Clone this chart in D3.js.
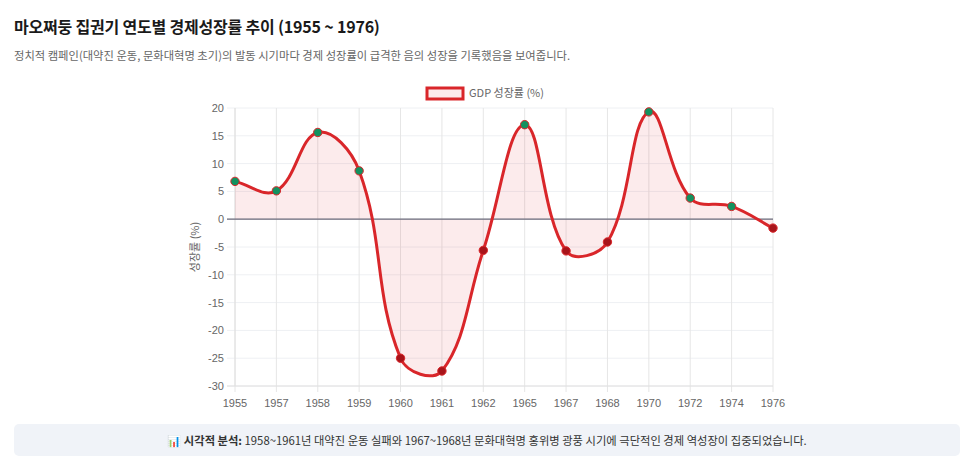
<!DOCTYPE html>
<html><head><meta charset="utf-8">
<script src="https://cdn.jsdelivr.net/npm/d3@7/dist/d3.min.js"></script>
<style>
body{margin:0;background:#fff;font-family:"Noto Sans CJK KR","Noto Sans",sans-serif;}
#title{position:absolute;left:14px;top:14px;font-size:16px;font-weight:700;color:#1a1a1a;letter-spacing:-0.2px}
#sub{position:absolute;left:14px;top:47px;font-size:11.3px;color:#666}
#note{position:absolute;left:14px;top:424px;width:946px;height:32px;background:#f0f3f8;border-radius:5px;font-size:11.3px;color:#333;text-align:center;line-height:32px}
svg{position:absolute;left:0;top:0}
</style></head><body>
<div id="title">마오쩌둥 집권기 연도별 경제성장률 추이 (1955 ~ 1976)</div>
<div id="sub">정치적 캠페인(대약진 운동, 문화대혁명 초기)의 발동 시기마다 경제 성장률이 급격한 음의 성장을 기록했음을 보여줍니다.</div>
<svg id="chart" width="975" height="474"></svg>
<div id="note">📊 <b>시각적 분석:</b> 1958~1961년 대약진 운동 실패와 1967~1968년 문화대혁명 홍위병 광풍 시기에 극단적인 경제 역성장이 집중되었습니다.</div>
<script>
const years = ["1955","1957","1958","1959","1960","1961","1962","1965","1967","1968","1970","1972","1974","1976"];
const growth = [6.8, 5.1, 15.6, 8.7, -25.0, -27.3, -5.6, 17.0, -5.7, -4.1, 19.3, 3.8, 2.3, -1.6];
const yTicks = [20,15,10,5,0,-5,-10,-15,-20,-25,-30];
const seriesName = "GDP 성장률 (%)";
const axisTitle = "성장률 (%)";

(function(){
const svg = d3.select("#chart");
const L = 235, R = 773, T = 108, B = 386;
const x = d3.scalePoint().domain(years).range([L, R]);
const y = d3.scaleLinear().domain([-30, 20]).range([B, T]);
const lineColor = "#d9262a";

const g = svg.append("g");
g.selectAll(".hg").data(yTicks).join("line")
  .attr("x1", L - 8).attr("x2", R).attr("y1", d => y(d)).attr("y2", d => y(d))
  .attr("stroke", "#eef0f3").attr("stroke-width", 1);
g.selectAll(".vg").data(years).join("line")
  .attr("x1", d => x(d)).attr("x2", d => x(d)).attr("y1", T).attr("y2", B + 6)
  .attr("stroke", "#e6e6e6");
g.append("line").attr("x1", L).attr("x2", L).attr("y1", T).attr("y2", B).attr("stroke", "#e0e0e0");
g.append("line").attr("x1", L - 8).attr("x2", R).attr("y1", B).attr("y2", B).attr("stroke", "#e0e0e0");

g.selectAll(".yt").data(yTicks).join("text")
  .attr("x", L - 11).attr("y", d => y(d) + 4).attr("text-anchor", "end")
  .attr("font-size", 11).attr("fill", "#666").attr("font-family", "Liberation Sans, Arial, sans-serif").text(d => d);
g.selectAll(".xt").data(years).join("text")
  .attr("x", d => x(d)).attr("y", B + 21).attr("text-anchor", "middle")
  .attr("font-size", 11).attr("fill", "#666").attr("font-family", "Liberation Sans, Arial, sans-serif").text(d => d);
g.append("text").attr("transform", `translate(199,${(T+B)/2}) rotate(-90)`)
  .attr("text-anchor", "middle").attr("font-size", 11).attr("fill", "#666").text(axisTitle);

const pts = years.map((yr, i) => [x(yr), y(growth[i])]);
const tension = 0.4;
const cps = pts.map((p, i) => {
  const prev = pts[Math.max(0, i - 1)], next = pts[Math.min(pts.length - 1, i + 1)];
  const d01 = Math.hypot(p[0] - prev[0], p[1] - prev[1]);
  const d12 = Math.hypot(next[0] - p[0], next[1] - p[1]);
  let s01 = d01 / (d01 + d12), s12 = d12 / (d01 + d12);
  if (isNaN(s01)) s01 = 0; if (isNaN(s12)) s12 = 0;
  const fa = tension * s01, fb = tension * s12;
  return {
    prev: [p[0] - fa * (next[0] - prev[0]), p[1] - fa * (next[1] - prev[1])],
    next: [p[0] + fb * (next[0] - prev[0]), p[1] + fb * (next[1] - prev[1])]
  };
});
function curvePath(ctx) {
  ctx.moveTo(pts[0][0], pts[0][1]);
  for (let i = 1; i < pts.length; i++) {
    const a = cps[i - 1].next, b = cps[i].prev;
    ctx.bezierCurveTo(a[0], a[1], b[0], b[1], pts[i][0], pts[i][1]);
  }
  return ctx;
}
const lp = curvePath(d3.path()).toString();
const ap = d3.path(); curvePath(ap);
ap.lineTo(pts[pts.length - 1][0], y(0)); ap.lineTo(pts[0][0], y(0)); ap.closePath();

svg.append("path").attr("d", ap.toString()).attr("fill", "rgba(217,38,42,0.09)");
svg.append("line").attr("x1", L - 8).attr("x2", R).attr("y1", y(0)).attr("y2", y(0)).attr("stroke", "#6b6b7b").attr("stroke-width", 1.2);
svg.append("path").attr("d", lp).attr("fill", "none").attr("stroke", lineColor).attr("stroke-width", 3);
svg.selectAll(".pt").data(growth).join("circle")
  .attr("cx", (d, i) => x(years[i])).attr("cy", d => y(d)).attr("r", 4.2)
  .attr("fill", d => d >= 0 ? "#13915f" : "#a8141a").attr("stroke", "#d9262a").attr("stroke-width", 1);

svg.append("rect").attr("x", 427).attr("y", 88).attr("width", 36).attr("height", 11)
  .attr("fill", "rgba(217,38,42,0.09)").attr("stroke", lineColor).attr("stroke-width", 3);
svg.append("text").attr("x", 469).attr("y", 97).attr("font-size", 11).attr("fill", "#666").text(seriesName);
})();
</script>
</body></html>
